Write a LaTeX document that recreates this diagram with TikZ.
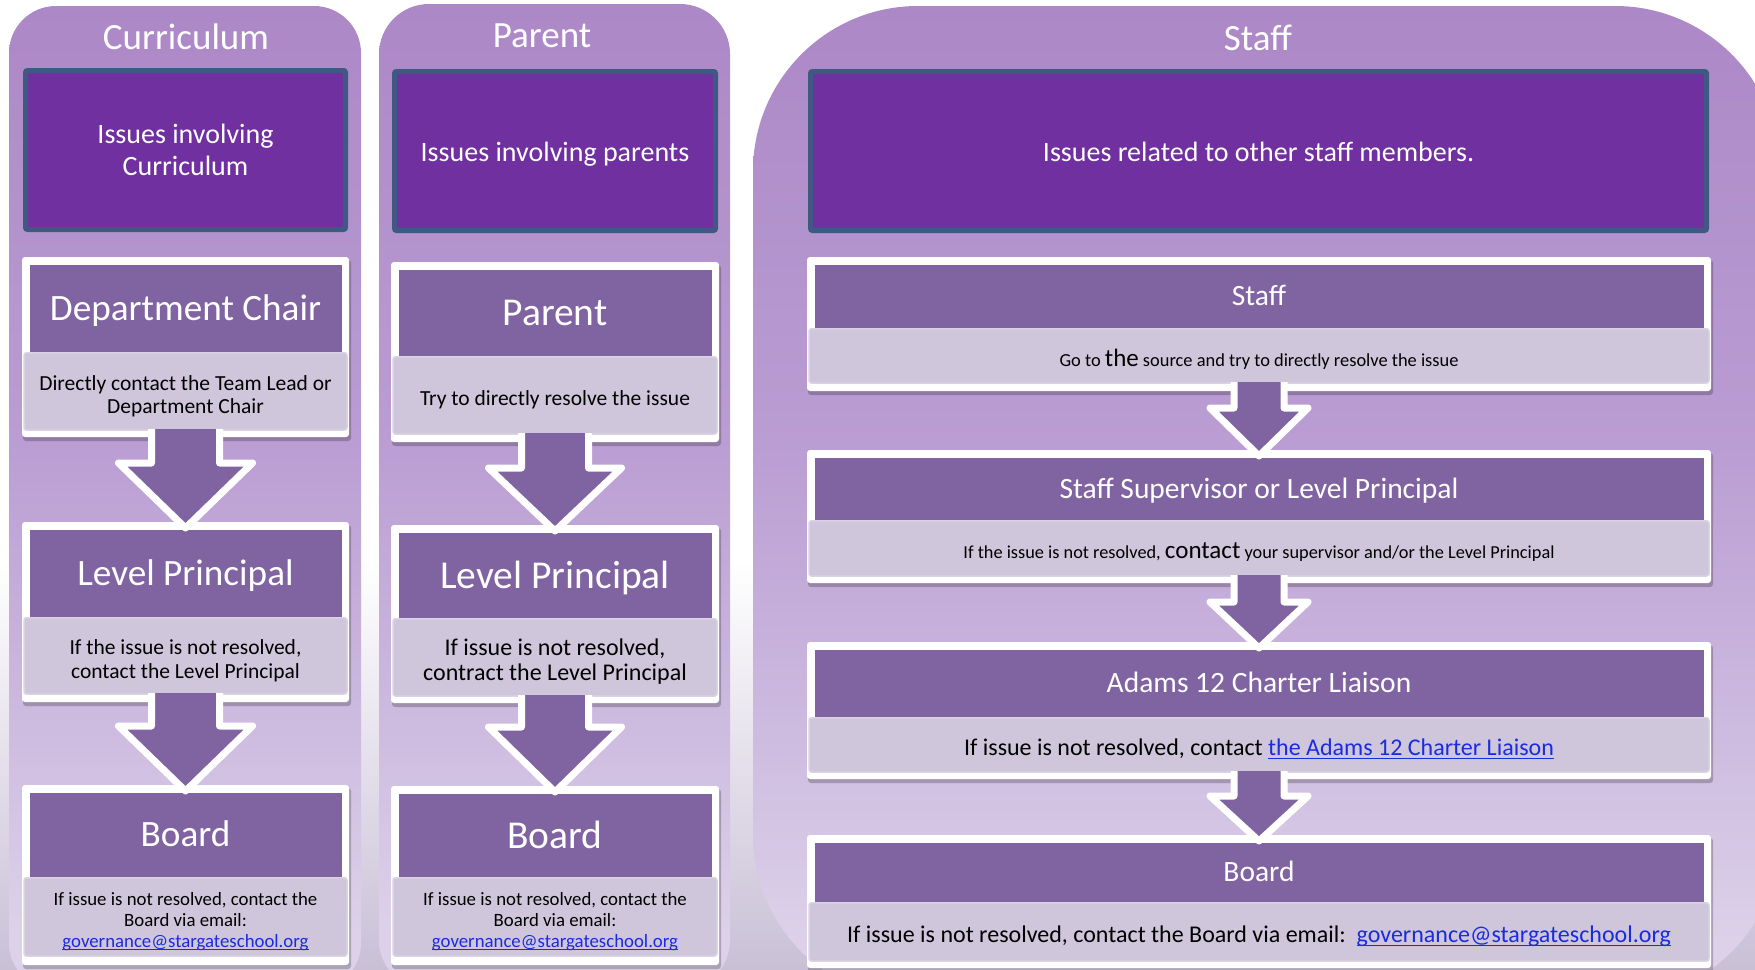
\documentclass[tikz,border=0pt]{standalone}
\usepackage{fontspec}
\setmainfont{Carlito}
\usetikzlibrary{calc}
\definecolor{ptop}{HTML}{9C6FBD}
\definecolor{pm1}{HTML}{AC88C6}
\definecolor{pm2}{HTML}{BA9DD3}
\definecolor{pm3}{HTML}{DCD1E9}
\definecolor{pbot}{HTML}{D3CADF}
\definecolor{bgb}{HTML}{C9C0D6}
\definecolor{dkfill}{HTML}{7030A0}
\definecolor{dkedge}{HTML}{3E5A82}
\definecolor{hdr}{HTML}{8064A2}
\definecolor{lite}{HTML}{CFC6DB}
\definecolor{liteedge}{HTML}{DAD3E4}
\definecolor{linkblue}{HTML}{1A2BE0}
\pgfdeclareverticalshading{panelshade}{100bp}{color(0bp)=(pbot); color(28bp)=(pm3); color(53bp)=(pm2); color(75bp)=(pm1); color(100bp)=(ptop)}
\newcommand\fs[2]{\fontsize{#1}{#2}\selectfont}
\newcommand\ml[3]{{\fs{#1}{#2}\begin{tabular}{@{}c@{}}#3\end{tabular}}}
\newcommand\lnk[1]{\textcolor{linkblue}{\sbox0{#1}\rlap{\rule[-0.14em]{\wd0}{0.06em}}\usebox0}}
% #1 name, #2 x1, #3 x2, #4 top, #5 header bottom, #6 light bottom, #7 bottom, #8 header, #9 body
\newcommand\stepbox[9]{%
  \fill[black,opacity=0.22,rounded corners=3pt] (#2+1,#4+3) rectangle (#3+2,#7+4);
  \fill[white,rounded corners=3pt] (#2,#4) rectangle (#3,#7);
  \fill[hdr] (#2+7.5,#4+8) rectangle (#3-7.5,#5);
  \filldraw[fill=lite,draw=liteedge,line width=1.5pt,rounded corners=2.5pt] (#2+2,#5+0.75) rectangle (#3-2,#6);
  \node[hdrtext] (#1-h) at ({(#2+#3)/2},{(#4+8+#5)/2}) {#8};
  \node[bodytext] (#1-b) at ({(#2+#3)/2},{(#5+#6)/2}) {#9};
  \coordinate (#1-top) at ({(#2+#3)/2},#4);
  \coordinate (#1-bot) at ({(#2+#3)/2},#6);
}
% #1 from, #2 to, #3 stem half, #4 head half, #5 head height
\newcommand\barrow[5]{%
  \fill[hdr] ($(#1-bot)+(-#3,-1)$) -- ($(#2-top)+(-#3,{6-#5})$) -- ($(#2-top)+(-#4,{6-#5})$) -- ($(#2-top)+(0,6)$) -- ($(#2-top)+(#4,{6-#5})$) -- ($(#2-top)+(#3,{6-#5})$) -- ($(#1-bot)+(#3,-1)$) -- cycle;
  \draw[white,line width=7pt,line join=round] ($(#1-bot)+(-#3,-1)$) -- ($(#2-top)+(-#3,{6-#5})$) -- ($(#2-top)+(-#4,{6-#5})$) -- ($(#2-top)+(0,6)$) -- ($(#2-top)+(#4,{6-#5})$) -- ($(#2-top)+(#3,{6-#5})$) -- ($(#1-bot)+(#3,-1)$);
}
\begin{document}
\begin{tikzpicture}[x=1pt,y=-1pt,
  panel/.style={shading=panelshade},
  ttl/.style={anchor=base,text=white,inner sep=0pt,font=\fs{37}{44}},
  issue/.style={fill=dkfill,draw=dkedge,line width=5pt,rounded corners=2pt,text=white,font=\fs{28}{31.5},align=center,inner sep=0pt},
  oneline/.style={text height=21.5pt,text depth=0pt},
  hdrtext/.style={text=white,inner sep=0pt,text height=23.5pt,text depth=0pt},
  bodytext/.style={text=black,inner sep=0pt,yshift=-6pt}]
\useasboundingbox (0,0) rectangle (1755,969);
\clip (0,0) rectangle (1755,969);
\fill[white] (0,0) rectangle (1755,969);
\shade[top color=white,bottom color=bgb] (0,560) rectangle (1755,969);
% panels
\path[panel,rounded corners=47pt] (9,6) rectangle (361,990);
\path[panel,rounded corners=50pt] (379,4) rectangle (730,990);
\path[panel,rounded corners=165pt] (753,6) rectangle (1780,1000);
% Curriculum column
\node[ttl] (cur-title) at (186,49) {Curriculum};
\node[issue,minimum width=320pt,minimum height=159pt] (cur-issue) at (185.5,150) {Issues involving\\Curriculum};
\stepbox{c1}{22}{349}{257}{352}{430}{437}{\fs{37.2}{44}Department Chair}{\ml{21.5}{23}{Directly contact the Team Lead or\\Department Chair}}
\stepbox{c2}{22}{349}{522}{617}{694}{702}{\fs{37.2}{44}Level Principal}{\ml{21.5}{24}{If the issue is not resolved,\\contact the Level Principal}}
\stepbox{c3}{22}{349}{785}{877}{956}{965}{\fs{37.2}{44}Board}{\ml{18.8}{21}{If issue is not resolved, contact the\\Board via email:\\\lnk{governance@stargateschool.org}}}
\barrow{c1}{c2}{34}{67}{65}
\barrow{c2}{c3}{34}{67}{65}
% Parent column
\node[ttl] (par-title) at (542,47) {Parent};
\node[issue,oneline,minimum width=321pt,minimum height=159pt] (par-issue) at (555,151) {Issues involving parents};
\begin{scope}[hdrtext/.append style={text height=25pt}]
\stepbox{p1}{391}{719}{262}{356}{434}{442}{\fs{39.5}{46}Parent}{\ml{21.5}{23}{Try to directly resolve the issue}}
\stepbox{p2}{391}{719}{525}{618}{696}{703}{\fs{39.5}{46}Level Principal}{\ml{24}{25}{If issue is not resolved,\\contract the Level Principal}}
\stepbox{p3}{391}{719}{786}{877}{956}{965}{\fs{39.5}{46}Board}{\ml{18.8}{21}{If issue is not resolved, contact the\\Board via email:\\\lnk{governance@stargateschool.org}}}
\end{scope}
\barrow{p1}{p2}{33.5}{66.5}{63}
\barrow{p2}{p3}{33.5}{66.5}{65}
% Staff column
\node[ttl] (stf-title) at (1258,50) {Staff};
\node[issue,oneline,minimum width=896pt,minimum height=159pt] (stf-issue) at (1258.5,151) {Issues related to other staff members.};
\begin{scope}[hdrtext/.append style={text height=18.6pt}]
\stepbox{s1}{807}{1711}{257}{328}{383}{391}{\fs{29.5}{36}Staff}{\ml{18.4}{22}{Go to {\fs{25}{25}the} source and try to directly resolve the issue}}
\stepbox{s2}{807}{1711}{450}{520}{576}{583}{\fs{29.5}{36}Staff Supervisor or Level Principal}{\ml{18.3}{22}{If the issue is not resolved, {\fs{25}{25}contact} your supervisor and/or the Level Principal}}
\stepbox{s3}{807}{1711}{642}{717}{772}{779}{\fs{29.5}{36}Adams 12 Charter Liaison}{\ml{24}{26}{If issue is not resolved, contact \lnk{the Adams 12 Charter Liaison}}}
\stepbox{s4}{807}{1711}{835}{902}{961}{968}{\fs{29.5}{36}Board}{\ml{24}{26}{If issue is not resolved, contact the Board via email:\ \ \lnk{governance@stargateschool.org}}}
\end{scope}
\barrow{s1}{s2}{25}{49}{48}
\barrow{s2}{s3}{25}{49}{46}
\barrow{s3}{s4}{25}{49}{45}
\end{tikzpicture}
\end{document}
